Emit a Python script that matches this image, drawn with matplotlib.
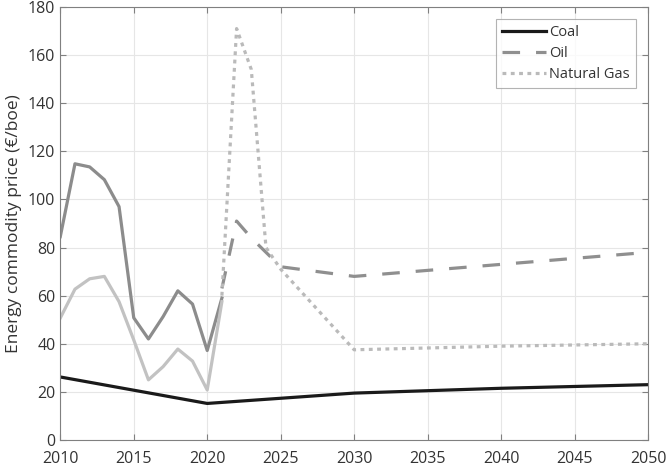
import matplotlib
matplotlib.use('Agg')
import matplotlib.pyplot as plt

# historical data (solid lines)
hist_years = [2010, 2011, 2012, 2013, 2014, 2015, 2016, 2017, 2018, 2019, 2020, 2021]
hist_oil = [84.5, 114.8, 113.5, 108.2, 97.0, 50.8, 42.0, 51.3, 62.0, 56.5, 37.2, 59.0]
hist_gas = [50.7, 62.7, 67.0, 68.0, 57.5, 41.6, 25.0, 30.5, 37.8, 32.8, 20.8, 57.5]

# coal
coal_years = [2010, 2020, 2030, 2040, 2050]
coal = [26.2, 15.2, 19.5, 21.5, 23.0]

# projections
proj_years = [2021, 2022, 2023, 2024, 2025, 2030, 2040, 2050]
proj_oil = [63.0, 91.0, 84.0, 78.0, 72.0, 68.0, 73.0, 78.0]
proj_gas = [60.0, 171.0, 154.0, 80.0, 71.0, 37.5, 39.0, 40.0]

plt.rcParams['font.family'] = ['Open Sans', 'DejaVu Sans']

fig = plt.figure(figsize=(6.66, 4.70), dpi=100)
ax = fig.add_axes([0.0905, 0.0638, 0.8825, 0.9215])

ax.plot(hist_years, hist_oil, color='#8c8c8c', lw=2.3)
ax.plot(hist_years, hist_gas, color='#c2c2c2', lw=2.3)
ax.plot(coal_years, coal, color='#1a1a1a', lw=2.3, label='Coal')
ax.plot(proj_years, proj_oil, color='#8f8f8f', lw=2.3, dashes=(5.5, 5.0), label='Oil')
ax.plot(proj_years, proj_gas, color='#bababa', lw=2.3, dashes=(1.2, 1.4), label='Natural Gas')

ax.set_xlim(2010, 2050)
ax.set_ylim(0, 180)
ax.set_xticks(range(2010, 2051, 5))
ax.set_yticks(range(0, 181, 20))
ax.grid(True, color='#e6e6e6', lw=0.8)
ax.set_axisbelow(True)
ax.tick_params(direction='in', top=True, right=True, length=4, color='#808080',
               labelcolor='#333333', labelsize=11.5)
ax.tick_params(axis='x', pad=8)
for s in ax.spines.values():
    s.set_color('#808080')
    s.set_linewidth(0.8)

ax.set_ylabel('Energy commodity price (€/boe)', fontsize=12.5, color='#333333', labelpad=4)

leg = ax.legend(loc='upper right', fontsize=10.5, frameon=True, fancybox=False,
                edgecolor='#a0a0a0', handlelength=3.0, handletextpad=0.2,
                borderpad=0.45, labelspacing=0.4, borderaxespad=0.8)
leg.get_frame().set_linewidth(0.8)
for t in leg.get_texts():
    t.set_color('#333333')

fig.savefig('out.png', dpi=100)
